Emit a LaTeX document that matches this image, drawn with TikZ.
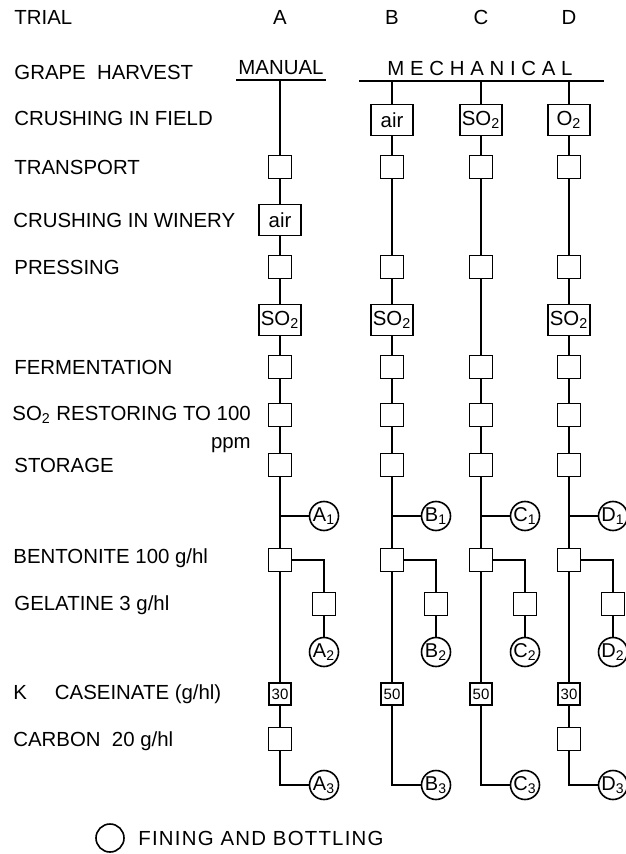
\documentclass[tikz,border=0pt]{standalone}
\usepackage{fontspec}
\setmainfont{Liberation Sans}
\tikzset{
  sq/.style={draw, line width=0.9pt, minimum width=11.5pt, minimum height=11.5pt, inner sep=0pt},
  tag/.style={draw, line width=0.9pt, minimum width=21pt, minimum height=15.5pt, inner sep=1pt},
  num/.style={draw, line width=0.9pt, minimum width=11pt, minimum height=11pt, inner sep=0pt, font=\fontsize{7.5}{8}\selectfont},
  fin/.style={draw, circle, line width=0.8pt, minimum size=14.5pt, inner sep=0pt, font=\fontsize{10}{10}\selectfont},
  row/.style={anchor=west, inner sep=0pt},
  link/.style={line width=0.8pt}
}
\begin{document}
\begin{tikzpicture}[x=0.5pt, y=-0.5pt, font=\fontsize{10.2}{14}\selectfont]
  \useasboundingbox (0,0) rectangle (625,854);
  \node[row] (trial) at (14,17) {TRIAL};
  \node[row] (harvest) at (14,72) {GRAPE\ \ HARVEST};
  \node[row] (field) at (14,118) {CRUSHING IN FIELD};
  \node[row] (transport) at (14,167) {TRANSPORT};
  \node[row] (winery) at (13,220) {CRUSHING IN WINERY};
  \node[row] (pressing) at (14,267) {PRESSING};
  \node[row] (ferment) at (14,367) {FERMENTATION};
  \node[row, align=right] (restore) at (12,429) {SO\textsubscript{2} RESTORING TO 100\\ppm};
  \node[row] (storage) at (14,465) {STORAGE};
  \node[row] (bentonite) at (13,558) {BENTONITE 100 g/hl};
  \node[row] (gelatine) at (14,605) {GELATINE 3 g/hl};
  \node[row] (caseinate) at (13,694) {K\hspace{14pt}CASEINATE (g/hl)};
  \node[row] (carbon) at (13,741) {CARBON\ \ 20 g/hl};

  \node (manual) at (281,68) {MANUAL};
  \coordinate (manL) at (236,80);
  \coordinate (manR) at (326,80);
  \draw[link] (manL) -- (manR);
  \node (mech) at (480,68) {\addfontfeature{LetterSpace=28}MECHANICAL};
  \coordinate (mechL) at (359,81);
  \coordinate (mechR) at (604,81);
  \draw[link] (mechL) -- (mechR);

  \coordinate (A-top) at (280,80);
  \coordinate (B-top) at (392,81);
  \coordinate (C-top) at (481,81);
  \coordinate (D-top) at (569,81);

  \foreach \col/\x/\n in {A/280/30,B/392/50,C/481/50,D/569/30}{
    \node (\col-head) at (\x,17) {\col};
    \node[sq] (\col-tr) at (\x,167) {};
    \node[sq] (\col-pr) at (\x,267) {};
    \node[sq] (\col-fe) at (\x,367) {};
    \node[sq] (\col-re) at (\x,415) {};
    \node[sq] (\col-st) at (\x,465) {};
    \coordinate (\col-j1) at (\x,516);
    \node[fin] (\col-1) at (\x+44,516) {\col\textsubscript{1}};
    \node[sq] (\col-be) at (\x,560) {};
    \node[sq] (\col-ge) at (\x+44,604) {};
    \node[fin] (\col-2) at (\x+44,652) {\col\textsubscript{2}};
    \node[num] (\col-ca) at (\x,694) {\n};
    \node[fin] (\col-3) at (\x+44,785) {\col\textsubscript{3}};
    \draw[link] (\col-fe) -- (\col-re) -- (\col-st) -- (\col-j1) -- (\col-be) -- (\col-ca);
    \draw[link] (\col-j1) -- (\col-1);
    \draw[link] (\col-be) -| (\col-ge) -- (\col-2);
  }

  \node[tag] (A-wi) at (280,220) {air};
  \node[tag] (A-so) at (280,320) {SO\textsubscript{2}};
  \node[sq] (A-cb) at (280,739) {};
  \node[tag] (B-fi) at (392,120) {air};
  \node[tag] (B-so) at (392,320) {SO\textsubscript{2}};
  \node[tag] (C-fi) at (481,120) {SO\textsubscript{2}};
  \node[tag] (D-fi) at (569,120) {O\textsubscript{2}};
  \node[tag] (D-so) at (569,320) {SO\textsubscript{2}};
  \node[sq] (D-cb) at (569,739) {};

  \draw[link] (A-top) -- (A-tr) -- (A-wi) -- (A-pr) -- (A-so) -- (A-fe);
  \draw[link] (A-ca) -- (A-cb) |- (A-3);
  \draw[link] (B-top) -- (B-fi) -- (B-tr) -- (B-pr) -- (B-so) -- (B-fe);
  \draw[link] (B-ca) |- (B-3);
  \draw[link] (C-top) -- (C-fi) -- (C-tr) -- (C-pr) -- (C-fe);
  \draw[link] (C-ca) |- (C-3);
  \draw[link] (D-top) -- (D-fi) -- (D-tr) -- (D-pr) -- (D-so) -- (D-fe);
  \draw[link] (D-ca) -- (D-cb) |- (D-3);

  \node[fin, minimum size=14pt] (legend) at (110,838) {};
  \node[row] (legendtext) at (138,838) {\addfontfeature{LetterSpace=6}FINING AND BOTTLING};
\end{tikzpicture}
\end{document}
